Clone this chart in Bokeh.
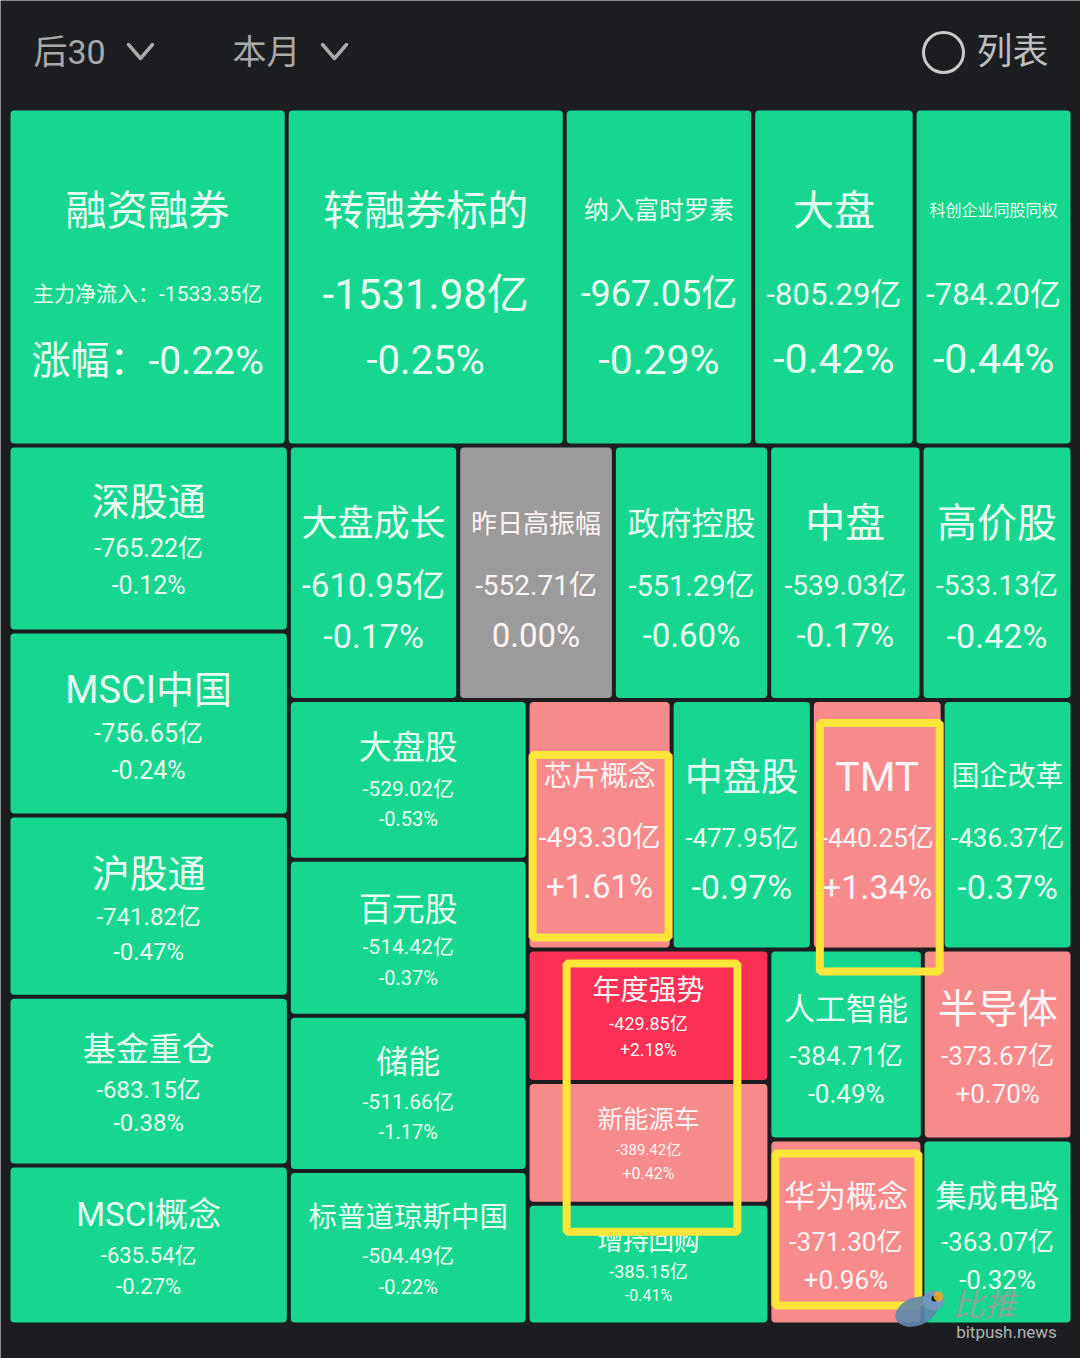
from bokeh.plotting import figure
from bokeh.models import ColumnDataSource, Range1d, Quad
from bokeh.core.properties import value, field
from bokeh.embed import file_html
from bokeh.resources import INLINE

# ---------------- data ----------------
NAMES = ["融资融券", "转融券标的", "纳入富时罗素", "大盘", "科创企业同股同权",
         "深股通", "MSCI中国", "沪股通", "基金重仓", "MSCI概念",
         "大盘成长", "昨日高振幅", "政府控股", "中盘", "高价股",
         "大盘股", "百元股", "储能", "标普道琼斯中国",
         "芯片概念", "中盘股", "TMT", "国企改革",
         "年度强势", "新能源车", "增持回购",
         "人工智能", "半导体", "华为概念", "集成电路"]
NET_FLOW = [-1533.35, -1531.98, -967.05, -805.29, -784.20,
            -765.22, -756.65, -741.82, -683.15, -635.54,
            -610.95, -552.71, -551.29, -539.03, -533.13,
            -529.02, -514.42, -511.66, -504.49,
            -493.30, -477.95, -440.25, -436.37,
            -429.85, -389.42, -385.15,
            -384.71, -373.67, -371.30, -363.07]
PCT = [-0.22, -0.25, -0.29, -0.42, -0.44,
       -0.12, -0.24, -0.47, -0.38, -0.27,
       -0.17, 0.00, -0.60, -0.17, -0.42,
       -0.53, -0.37, -1.17, -0.22,
       1.61, -0.97, 1.34, -0.37,
       2.18, 0.42, -0.41,
       -0.49, 0.70, 0.96, -0.32]
HEADLINE_PREFIX = {"融资融券": ("主力净流入：", "涨幅：")}
HEADER_LEFT = ["后30", "本月"]
HEADER_RIGHT = "列表"

# ---------------- styles / layout ----------------
W, H = 1080, 1358
BG = "#1c1d21"
GREEN, PINK, RED, GREY = "#17d68f", "#f78b8b", "#fa3055", "#9b9b9b"
FONT = value("Roboto, Noto Sans CJK SC, sans-serif")
AREA = (8, 108, 1072, 1324)     # treemap frame (x0, y0, x1, y1) in px
GAP = 2.0
SIZE_EXP = 0.845
STRIP_SIZES = [5, 5, 5, 4, 4, 3, 2, 1, 1]   # items per treemap strip
# per cell: title size, value size, pct size, title dy, value dy, pct dy (from cell center)
STYLE = {
    "融资融券": (41, 21, 39, -66, 17, 84),
    "转融券标的": (41, 42, 40, -66, 17, 83),
    "纳入富时罗素": (25, 36, 41, -67, 17, 83),
    "大盘": (41, 31, 41, -66, 17, 82),
    "科创企业同股同权": (16, 31, 41, -67, 17, 82),
    "深股通": (38, 25, 25, -36, 10, 47),
    "MSCI中国": (38, 25, 25, -34, 10, 47),
    "沪股通": (38, 24, 24, -32, 11, 46),
    "基金重仓": (33, 24, 24, -32, 9, 42),
    "MSCI概念": (33, 22, 22, -31, 10, 41),
    "大盘成长": (36, 33, 34, -49, 13, 63),
    "昨日高振幅": (26, 28, 33, -49, 13, 63),
    "政府控股": (32, 29, 33, -49, 13, 63),
    "中盘": (40, 28, 33, -49, 13, 63),
    "高价股": (40, 28, 34, -49, 13, 63),
    "大盘股": (33, 21, 20, -32, 9, 39),
    "百元股": (33, 21, 20, -28, 9, 40),
    "储能": (32, 21, 20, -31, 9, 39),
    "标普道琼斯中国": (28.5, 21, 20, -30, 8, 39),
    "芯片概念": (28, 28, 33, -48, 13, 62),
    "中盘股": (38, 26, 34, -48, 13, 62),
    "TMT": (41, 26, 34, -48, 13, 62),
    "国企改革": (28, 26, 34, -48, 13, 62),
    "年度强势": (28, 18, 17.5, -25, 8, 34),
    "新能源车": (25.5, 15, 16, -24, 7, 31),
    "增持回购": (25.5, 18, 16, -23, 7, 31),
    "人工智能": (31, 26, 26, -35, 11, 49),
    "半导体": (40, 26, 26, -35, 11, 49),
    "华为概念": (31, 26, 26, -36, 10, 48),
    "集成电路": (31, 26, 26, -36, 10, 48),
}
# highlight annotations: cells, offsets for left, top, right, bottom
HIGHLIGHTS = [(["芯片概念"], 5, 55, -3, -12),
              (["TMT"], 8, 23, -3, 22),
              (["年度强势", "新能源车"], 39, 14, -32, 28),
              (["华为概念"], 6, 14, -4, -19)]


def strip_treemap(weights, sizes, x, y, w, h):
    total = sum(weights)
    areas = [v * w * h / total for v in weights]
    rects, i = [], 0
    for k in sizes:
        row = areas[i:i + k]
        s = sum(row)
        if w >= h:          # vertical strip on the left
            cw, cy = s / h, y
            for a in row:
                rh = a / cw
                rects.append((x, cy, x + cw, cy + rh))
                cy += rh
            x += cw
            w -= cw
        else:               # horizontal strip on top
            rh, cx = s / w, x
            for a in row:
                cw = a / rh
                rects.append((cx, y, cx + cw, y + rh))
                cx += cw
            y += rh
            h -= rh
        i += k
    return rects


def color_for(p):
    if p == 0:
        return GREY
    if p < 0:
        return GREEN
    return RED if p >= 2 else PINK


weights = [abs(v) ** SIZE_EXP for v in NET_FLOW]
rects = strip_treemap(weights, STRIP_SIZES, AREA[0], AREA[1], AREA[2] - AREA[0], AREA[3] - AREA[1])
cell = {n: r for n, r in zip(NAMES, rects)}

p = figure(width=W, height=H, x_range=Range1d(0, W), y_range=Range1d(H, 0),
           output_backend="svg", toolbar_location=None, min_border=0)
p.axis.visible = False
p.grid.visible = False
p.outline_line_color = None
p.background_fill_color = BG
p.border_fill_color = BG

qkw = {}
if "border_radius" in Quad.properties():
    qkw["border_radius"] = 4
src = ColumnDataSource(dict(
    left=[r[0] + GAP for r in rects], right=[r[2] - GAP for r in rects],
    top=[r[1] + GAP for r in rects], bottom=[r[3] - GAP for r in rects],
    color=[color_for(v) for v in PCT]))
p.quad(left="left", right="right", top="top", bottom="bottom", source=src,
       fill_color="color", line_color=None, **qkw)

tx, ty, tt, ts, tc = [], [], [], [], []
for n, flow, pc, r in zip(NAMES, NET_FLOW, PCT, rects):
    cx, cy = (r[0] + r[2]) / 2, (r[1] + r[3]) / 2
    s_t, s_v, s_p, d_t, d_v, d_p = STYLE[n]
    pre_v, pre_p = HEADLINE_PREFIX.get(n, ("", ""))
    if pc == 0:
        pct_txt = "0.00%"
    elif pc < 0:
        pct_txt = f"{pc:.2f}%"
    else:
        pct_txt = f"+{pc:.2f}%"
    col = "#e8fff5" if pc < 0 else "#fff4f4"
    for txt, s, d in ((n, s_t, d_t), (f"{pre_v}{flow:.2f}亿", s_v, d_v), (pre_p + pct_txt, s_p, d_p)):
        tx.append(cx)
        ty.append(cy + d)
        tt.append(txt)
        ts.append(f"{s}px")
        tc.append(col)
p.text(x="x", y="y", text="text", source=ColumnDataSource(dict(x=tx, y=ty, text=tt, size=ts, color=tc)),
       text_font=FONT, text_font_size=field("size"), text_color="color",
       text_align="center", text_baseline="middle")

# highlight boxes
for names, dl, dt, dr, db in HIGHLIGHTS:
    x0 = min(cell[n][0] for n in names) + dl
    y0 = min(cell[n][1] for n in names) + dt
    x1 = max(cell[n][2] for n in names) + dr
    y1 = max(cell[n][3] for n in names) + db
    p.quad(left=[x0], right=[x1], top=[y0], bottom=[y1], fill_color=None,
           line_color="#ffe43a", line_width=8)

# header
HCOL = "#a9a9a9"
p.text(x=[33, 232], y=[51, 51], text=HEADER_LEFT, text_font=FONT, text_font_size="34px",
       text_color=HCOL, text_align="left", text_baseline="middle")
chev_x = [140, 334]
p.multi_line(xs=[[c - 12, c, c + 12] for c in chev_x], ys=[[44, 58, 44] for _ in chev_x],
             line_color=HCOL, line_width=3.5, line_join="round", line_cap="round")
p.circle(x=[943], y=[52], radius=20, fill_color=None, line_color="#c9c9c9", line_width=3)
p.text(x=[976], y=[51], text=[HEADER_RIGHT], text_font=FONT, text_font_size="36px",
       text_color="#bdbdbd", text_align="left", text_baseline="middle")

# watermark
p.ellipse(x=[916], y=[1311], width=44, height=28, angle=0.35, fill_color="#5f87ad",
          line_color=None, fill_alpha=0.9)
p.ellipse(x=[933], y=[1300], width=22, height=20, fill_color="#6f99bf", line_color=None)
p.circle(x=[934], y=[1298], radius=3, fill_color="#111111", line_color=None)
p.circle(x=[938], y=[1296], radius=5, fill_color="#e0a92a", line_color=None, fill_alpha=0.9)
p.text(x=[984], y=[1304], text=["比推"], text_font=FONT, text_font_size="32px",
       text_font_style="italic", text_color="#9d9d9d", text_alpha=0.85,
       text_align="center", text_baseline="middle")
p.text(x=[1006], y=[1331], text=["bitpush.news"], text_font=FONT, text_font_size="17px",
       text_color="#b3b3b3", text_align="center", text_baseline="middle")

open("out.html", "w").write(file_html(p, INLINE))
